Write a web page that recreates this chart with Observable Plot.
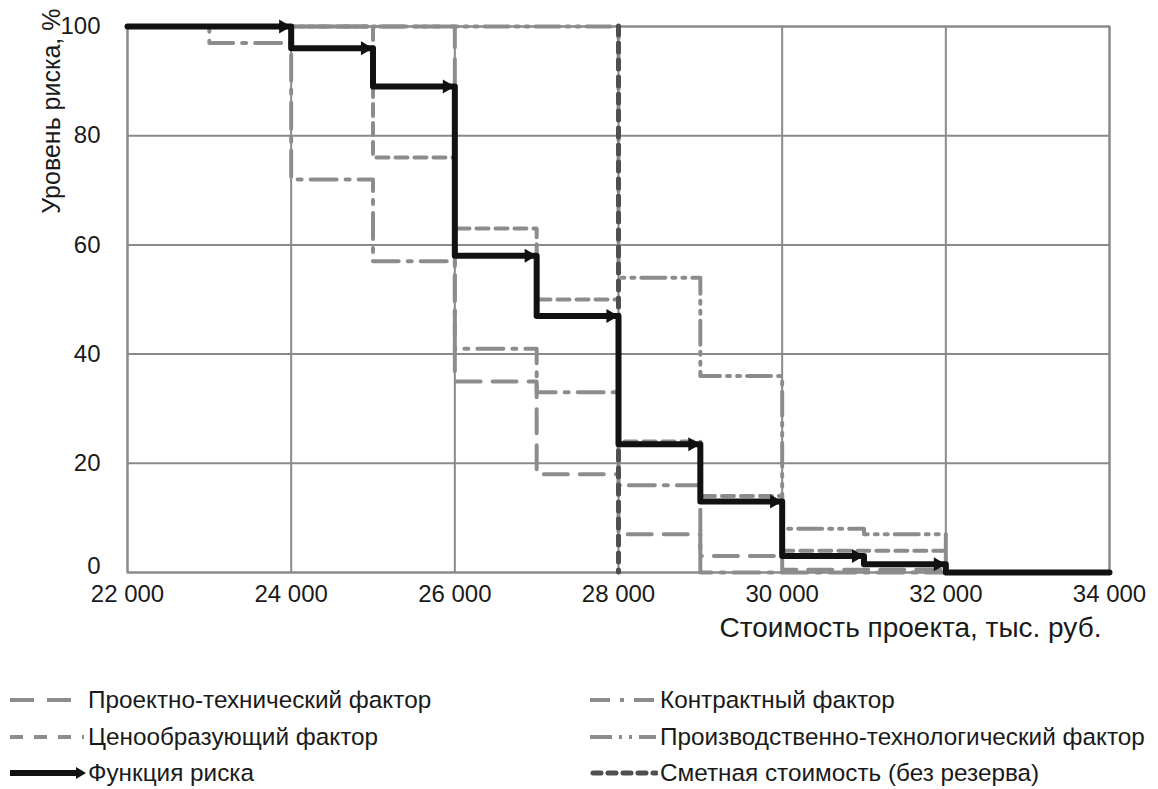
<!DOCTYPE html>
<html>
<head>
<meta charset="utf-8">
<script src="https://cdn.jsdelivr.net/npm/d3@7"></script>
<script src="https://cdn.jsdelivr.net/npm/@observablehq/plot@0.6"></script>
<style>
  body { margin: 0; background: #fff; font-family: "Liberation Sans", Arial, sans-serif; }
  #wrap { position: relative; width: 1158px; height: 789px; overflow: hidden; }
  #chart { position: absolute; left: 0; top: 0; }
  .item { position: absolute; display: flex; align-items: center; font-size: 24.3px; color: #1a1a1a; height: 30px; white-space: nowrap; }
  .item svg { display: block; margin-right: 2px; }
</style>
</head>
<body>
<div id="wrap">
  <div id="chart"></div>
  <div id="legend"></div>
</div>
<script>
// ---- data ----
const xBreaks = [22000, 23000, 24000, 25000, 26000, 27000, 28000, 29000, 30000, 31000, 32000, 34000];
const projectTech   = [100, 100, 100, 100, 35, 18, 7, 3, 0.5, 0.5, 0, 0];
const contractual   = [100, 97, 72, 57, 41, 33, 16, 0, 0, 0, 0, 0];
const pricing       = [100, 100, 100, 76, 63, 50, 24, 14, 4, 4, 0, 0];
const production    = [100, 100, 100, 100, 100, 100, 54, 36, 8, 7, 0, 0];
const riskFunction  = [100, 100, 96, 89, 58, 47, 23.5, 13, 3, 1.5, 0, 0];
const estimateCost  = 28000;
const xTicks = [22000, 24000, 26000, 28000, 30000, 32000, 34000];
const yTicks = [0, 20, 40, 60, 80, 100];
const seriesNames = [
  "Проектно-технический фактор",
  "Контрактный фактор",
  "Ценообразующий фактор",
  "Производственно-технологический фактор",
  "Функция риска",
  "Сметная стоимость (без резерва)"
];
const xLabel = "Стоимость проекта, тыс. руб.";
const yLabel = "Уровень риска, %";

// ---- styles ----
const gray = "#8c8c8c";
const gridColor = "#8a8a8a";
const dashes = {
  projectTech: "24,12",
  contractual: "26,9,4,9",
  pricing: "12,7",
  production: "24,7,3,7,3,7"
};

const toPts = vals => xBreaks.map((x, i) => ({x, y: vals[i]}));
const arrowPts = [];
for (let i = 0; i < xBreaks.length - 1; i++) {
  if (riskFunction[i] !== riskFunction[i + 1]) arrowPts.push({x: xBreaks[i + 1], y: riskFunction[i]});
}
const fmt = d => d3.format(",")(d).replace(/,/g, "\u00a0");

const grayLine = (vals, dash) => Plot.line(toPts(vals), {
  x: "x", y: "y", curve: "step-after", stroke: gray, strokeWidth: 4, strokeDasharray: dash
});

const chart = Plot.plot({
  width: 1158,
  height: 660,
  marginLeft: 127,
  marginRight: 49,
  marginTop: 26,
  marginBottom: 88,
  style: {fontFamily: "'Liberation Sans', Arial, sans-serif", fontSize: "24px", color: "#1a1a1a", background: "#fff"},
  x: {domain: [22000, 34000]},
  y: {domain: [0, 100]},
  marks: [
    Plot.gridX(xTicks, {stroke: gridColor, strokeWidth: 2, strokeOpacity: 1}),
    Plot.gridY(yTicks, {stroke: gridColor, strokeWidth: 2, strokeOpacity: 1}),
    Plot.frame({stroke: gridColor, strokeWidth: 2}),
    Plot.axisX(xTicks, {tickSize: 0, tickPadding: 12, tickFormat: fmt, fontSize: 24, label: null}),
    Plot.axisY(yTicks.filter(d => d > 0), {tickSize: 0, tickPadding: 27, fontSize: 24, label: null}),
    Plot.axisY([0], {tickSize: 0, tickPadding: 27, fontSize: 24, label: null, dy: -6}),
    grayLine(projectTech, dashes.projectTech),
    grayLine(production, dashes.production),
    grayLine(contractual, dashes.contractual),
    grayLine(pricing, dashes.pricing),
    Plot.ruleX([estimateCost], {stroke: "#4f4f4f", strokeWidth: 5, strokeDasharray: "9,8", strokeLinecap: "round"}),
    Plot.line(toPts(riskFunction), {x: "x", y: "y", curve: "step-after", stroke: "#111", strokeWidth: 6}),
    Plot.dot(arrowPts, {x: "x", y: "y", symbol: "triangle", rotate: 90, r: 5.2, fill: "#111", stroke: "none", dx: -8}),
    Plot.text([yLabel], {text: d => d, frameAnchor: "top-left", rotate: -90, textAnchor: "end", dx: -85, dy: -18, fontSize: 25, fill: "#1a1a1a"}),
    Plot.text([xLabel], {text: d => d, frameAnchor: "bottom-right", textAnchor: "end", dx: -8, dy: 64, fontSize: 28, fill: "#1a1a1a"})
  ]
});
document.getElementById("chart").appendChild(chart);

// ---- legend ----
const legendItems = [
  {name: seriesNames[0], left: 10, top: 685, w: 76, color: gray, width: 4, dash: "24,13"},
  {name: seriesNames[2], left: 10, top: 722, w: 76, color: gray, width: 4, dash: "13,11"},
  {name: seriesNames[4], left: 10, top: 758, w: 76, color: "#111", width: 6, dash: null, arrow: true},
  {name: seriesNames[1], left: 590, top: 685, w: 68, color: gray, width: 4, dash: "20,10,4,10"},
  {name: seriesNames[3], left: 590, top: 722, w: 68, color: gray, width: 4, dash: "22,7,3,7,3,7"},
  {name: seriesNames[5], left: 590, top: 758, w: 68, color: "#4f4f4f", width: 5, dash: "8,7", round: true}
];
const legend = document.getElementById("legend");
const ns = "http://www.w3.org/2000/svg";
for (const it of legendItems) {
  const div = document.createElement("div");
  div.className = "item";
  div.style.left = it.left + "px";
  div.style.top = it.top + "px";
  const svg = document.createElementNS(ns, "svg");
  svg.setAttribute("width", it.w);
  svg.setAttribute("height", 30);
  const line = document.createElementNS(ns, "line");
  line.setAttribute("x1", it.round ? 3 : 0);
  line.setAttribute("x2", it.arrow ? it.w - 8 : it.w - 2);
  line.setAttribute("y1", 15);
  line.setAttribute("y2", 15);
  line.setAttribute("stroke", it.color);
  line.setAttribute("stroke-width", it.width);
  if (it.dash) line.setAttribute("stroke-dasharray", it.dash);
  if (it.round) line.setAttribute("stroke-linecap", "round");
  svg.appendChild(line);
  if (it.arrow) {
    const p = document.createElementNS(ns, "path");
    p.setAttribute("d", `M${it.w - 10},9 L${it.w},15 L${it.w - 10},21 Z`);
    p.setAttribute("fill", it.color);
    svg.appendChild(p);
  }
  div.appendChild(svg);
  const span = document.createElement("span");
  span.textContent = it.name;
  div.appendChild(span);
  legend.appendChild(div);
}
</script>
</body>
</html>
